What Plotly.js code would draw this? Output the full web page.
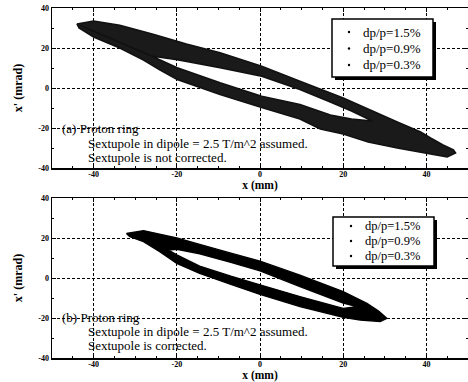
<!DOCTYPE html>
<html>
<head>
<meta charset="utf-8">
<script src="https://cdn.plot.ly/plotly-3.0.1.min.js"></script>
<style>html,body{margin:0;padding:0;background:#fff;}#chart{width:468px;height:382px;}</style>
</head>
<body>
<div id="chart"></div>
<script>
// ---- data ----
const seriesLabels = ['dp/p=1.5%', 'dp/p=0.9%', 'dp/p=0.3%'];
const xTickVals = [-40, -20, 0, 20, 40];
const xTickText = ['-40', '-20', '0', '20', '40'];
const yTickVals = [-40, -20, 0, 20, 40];
const yTickText = ['-40', '-20', '0', '20', '40'];

// (a) not corrected: outer boundary of the particle band and its inner hole (x mm, x' mrad)
const aOuterX = [-44, -40, -33.7, -25.7, -17.7, -9.6, 0.4, 9.6, 16.9, 20, 26.5, 33, 38.6, 41, 44, 46.5, 47, 45, 41, 33, 26, 20, 14.5, 9.6, 0.4, -9.6, -19.9, -24, -28, -33.7, -40, -43.5];
const aOuterY = [32, 33.5, 31.4, 26.9, 22, 17.6, 10.9, 3.4, -2.5, -5, -11, -17, -22, -25, -28.5, -31, -32.5, -34.5, -33, -30, -27, -23, -20.5, -15.5, -9.7, -3.2, 4.2, 9, 14, 20, 25.5, 30];
const aHoleX = [-26.1, -19.9, -9.6, 0.4, 9.6, 16.9, 22, 27, 22, 16.9, 9.6, 0.4, -9.6, -19.9];
const aHoleY = [16, 14.2, 10.1, 5.9, -0.7, -7, -11.5, -16.5, -15.5, -13.5, -8.2, -4.1, 2.6, 10.1];

// (b) corrected
const bOuterX = [-32.1, -28, -20, -14.5, -7, 0, 9.6, 20, 25.7, 28.5, 30.5, 28.9, 24.1, 20, 9.6, 0, -7, -14.5, -20, -24.1, -28, -31.3];
const bOuterY = [22.3, 23.7, 20, 16.8, 12.4, 8.4, 1.4, -6.8, -12.7, -16.5, -20.2, -21.8, -21, -19.7, -14.3, -8.2, -3.2, 2.3, 7.3, 13.2, 18.2, 20.7];
const bHoleX = [-22.1, -20, -14.5, -7, 0, 9.6, 20, 23.3, 20, 9.6, 0, -7, -14.5, -20];
const bHoleY = [14, 14.4, 12.1, 7.8, 3.6, -4.3, -12.5, -14.3, -15.2, -9.3, -3.4, 0.9, 5.9, 11.6];

// ---- build band polygons (outer loop + reversed hole loop => hole) ----
function ring(ox, oy, hx, hy) {
  const x = ox.concat([ox[0]]), y = oy.concat([oy[0]]);
  x.push(hx[0]); y.push(hy[0]);
  for (let i = hx.length - 1; i >= 0; i--) { x.push(hx[i]); y.push(hy[i]); }
  x.push(ox[0]); y.push(oy[0]);
  return {x, y};
}
const ra = ring(aOuterX, aOuterY, aHoleX, aHoleY);
const rb = ring(bOuterX, bOuterY, bHoleX, bHoleY);

const traces = [
  {x: ra.x, y: ra.y, xaxis: 'x', yaxis: 'y', type: 'scatter', mode: 'lines', fill: 'toself',
   fillcolor: '#1a1a1a', line: {color: '#111', width: 1.6, simplify: false}, name: '(a) all dp/p', showlegend: false, hoverinfo: 'skip'},
  {x: rb.x, y: rb.y, xaxis: 'x2', yaxis: 'y2', type: 'scatter', mode: 'lines', fill: 'toself',
   fillcolor: '#000', line: {color: '#000', width: 1.4, simplify: false}, name: '(b) all dp/p', showlegend: false, hoverinfo: 'skip'}
];

// ---- layout helpers ----
const PL = 52, PT = 8, PW = 416, PH = 350;
const fx = px => (px - PL) / PW;
const fy = py => 1 - (py - PT) / PH;
const serif = 'Liberation Serif, Times New Roman, serif';

function xax(anchor) {
  return {
    anchor: anchor, range: [-50, 50], tickmode: 'array', tickvals: xTickVals, ticktext: xTickText,
    ticks: 'inside', ticklen: 4, tickcolor: '#000', tickwidth: 1, ticklabelstandoff: -2,
    minor: {tickmode: 'linear', tick0: 0, dtick: 5, ticks: 'inside', ticklen: 2, tickcolor: '#000', showgrid: false},
    showline: true, linecolor: '#000', linewidth: 1.5, mirror: 'allticks',
    showgrid: true, gridcolor: '#000', gridwidth: 1, griddash: '3px,2px', zeroline: false,
    tickfont: {family: serif, size: 8, color: '#000', weight: 'bold'},
    title: {text: 'x (mm)', font: {family: serif, size: 11.5, color: '#000', weight: 'bold'}, standoff: 0}
  };
}
function yax(anchor, domain) {
  return {
    anchor: anchor, domain: domain, range: [-40, 40], tickmode: 'array', tickvals: yTickVals, ticktext: yTickText,
    ticks: 'inside', ticklen: 4, tickcolor: '#000', tickwidth: 1,
    minor: {tickmode: 'linear', tick0: 0, dtick: 10, ticks: 'inside', ticklen: 2, tickcolor: '#000', showgrid: false},
    showline: true, linecolor: '#000', linewidth: 1.5, mirror: 'allticks',
    showgrid: true, gridcolor: '#000', gridwidth: 1, griddash: '3px,2px', zeroline: false,
    tickfont: {family: serif, size: 8, color: '#000', weight: 'bold'},
    title: {text: "x' (mrad)", font: {family: serif, size: 12, color: '#000', weight: 'bold'}, standoff: 13}
  };
}

const shapes = [];
const annotations = [];
function legendBox(x0, y0, x1, y1, rows, dotX, textX, fs) {
  shapes.push({type: 'rect', xref: 'paper', yref: 'paper', x0: fx(x0 + 3), x1: fx(x1 + 3), y0: fy(y0 + 3), y1: fy(y1 + 3),
               fillcolor: '#000', line: {width: 0}, layer: 'above'});
  shapes.push({type: 'rect', xref: 'paper', yref: 'paper', x0: fx(x0), x1: fx(x1), y0: fy(y0), y1: fy(y1),
               fillcolor: '#fff', line: {color: '#000', width: 1.5}, layer: 'above'});
  seriesLabels.forEach((lab, i) => {
    const r = rows[i];
    shapes.push({type: 'circle', xref: 'paper', yref: 'paper', x0: fx(dotX - 1.2), x1: fx(dotX + 1.2), y0: fy(r - 1.2), y1: fy(r + 1.2),
                 fillcolor: '#000', line: {width: 0}, layer: 'above'});
    annotations.push({xref: 'paper', yref: 'paper', x: fx(textX), y: fy(r), xanchor: 'left', yanchor: 'middle', showarrow: false,
                      borderpad: 0, text: lab, font: {family: serif, size: fs, color: '#000'}});
  });
}
legendBox(332, 19, 433, 77, [32, 48.5, 65], 349, 362, 13);
legendBox(333, 217, 434, 266, [226, 241, 256], 351, 364, 12.5);

function note(xpx, ypx, txt) {
  annotations.push({xref: 'paper', yref: 'paper', x: fx(xpx), y: fy(ypx), xanchor: 'left', yanchor: 'middle', showarrow: false,
                    text: txt, font: {family: serif, size: 13, color: '#000'}});
}
note(60, 128, '(a) Proton ring');
note(86, 143, 'Sextupole in dipole = 2.5 T/m^2 assumed.');
note(86, 157, 'Sextupole is not corrected.');
note(60, 317.5, '(b) Proton ring');
note(86, 331.5, 'Sextupole in dipole = 2.5 T/m^2 assumed.');
note(86, 345.5, 'Sextupole is corrected.');

const layout = {
  width: 468, height: 382,
  margin: {l: PL, r: 0, t: PT, b: 24},
  paper_bgcolor: '#fff', plot_bgcolor: '#fff',
  showlegend: false,
  xaxis: xax('y'),
  yaxis: yax('x', [fy(168), 1]),
  xaxis2: xax('y2'),
  yaxis2: yax('x2', [0, fy(198)]),
  shapes: shapes,
  annotations: annotations,
  font: {family: serif, color: '#000'}
};

Plotly.newPlot('chart', traces, layout, {staticPlot: true, displayModeBar: false});
</script>
</body>
</html>
